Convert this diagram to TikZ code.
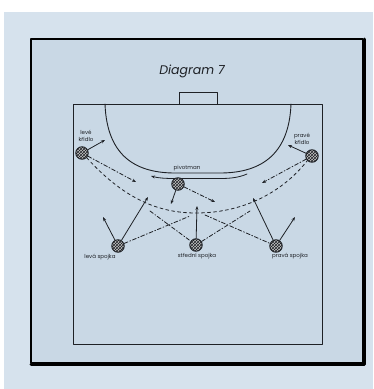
\documentclass[tikz,border=0pt]{standalone}
\usepackage{fontspec}
\setmainfont{Poppins}
\usetikzlibrary{patterns,arrows.meta}
\definecolor{paper}{RGB}{214,226,237}
\definecolor{board}{RGB}{201,216,229}
\definecolor{ink}{RGB}{30,33,38}
\tikzset{
  player/.style={circle, draw=ink, line width=0.9pt, minimum size=12.5pt, inner sep=0pt,
    preaction={fill=gray!45}, pattern=crosshatch, pattern color=ink},
  lbl/.style={text=ink, inner sep=0pt, align=center, font=\fontsize{5.5}{6.5}\selectfont},
  run/.style={->, ink, line width=0.8pt},
  pass/.style={->, ink, line width=0.8pt, dash pattern=on 4pt off 2pt on 1pt off 2pt},
  cross/.style={ink, line width=0.8pt, dash pattern=on 4pt off 2pt on 1pt off 2pt},
  line/.style={ink, line width=0.9pt}
}
\begin{document}
\begin{tikzpicture}[x=1pt, y=-1pt, line join=round, line cap=round, >={Stealth[length=4pt,width=3pt]}]
	\useasboundingbox (0,0) rectangle (373,389);
	\fill[white] (0,0) rectangle (373,389);
	\fill[paper] (4,12) rectangle (373,389);
	\fill[board] (31,39) rectangle (363,363);
	% frame
	\draw[line width=2pt] (31,39) rectangle (363,363);
	\draw[line width=3pt] (364,39) -- (364,364.5) -- (31,364.5);
	\node[text=ink, font=\itshape\fontsize{12.5}{12.5}\selectfont] (title) at (192,71) {Diagram 7};
	% court, goal and goal area
	\draw[line] (73,104) rectangle (322,344);
	\draw[line] (179,104) |- (217,92) -- (217,104);
	\draw[line] (105,104) .. controls (107,158) and (138,173) .. (175,173) -- (220,173)
		.. controls (257,173) and (289,158) .. (291,104);
	\draw[run] (247,174) .. controls (238,178) and (228,178.5) .. (220,178.5) -- (175,178.5)
		.. controls (165,178.5) and (158,178) .. (151,176);
	% players
	\foreach \n/\x/\y in {lw/82/153, rw/312/156, pv/178/184, lb/118/246, cb/196/245, rb/276/246}{
		\node[player] (\n) at (\x,\y) {};
	}
	\node[lbl] (lw-l) at (86,136) {levé\\křídlo};
	\node[lbl] (rw-l) at (302,139) {pravé\\křídlo};
	\node[lbl] (pv-l) at (187,168) {pivotman};
	\node[lbl] (lb-l) at (100,257) {levá spojka};
	\node[lbl] (cb-l) at (197,256) {střední spojka};
	\node[lbl] (rb-l) at (290,256) {pravá spojka};
	% end points of runs and passes
	\path (105,140) coordinate (lw-r)
		(288,145) coordinate (rw-r)
		(136,182) coordinate (lw-p)
		(262,183) coordinate (rw-p)
		(171,204) coordinate (pv-r)
		(215,202) coordinate (pv-p)
		(103,217) coordinate (lb-r1)
		(148,197) coordinate (lb-r2)
		(197,206) coordinate (cb-r)
		(253,198) coordinate (rb-r1)
		(295,217) coordinate (rb-r2)
		(190,216) coordinate (lb-x)
		(150,211) coordinate (cb-x1)
		(250,211) coordinate (cb-x2)
		(205,215) coordinate (rb-x);
	% runs
	\foreach \a/\b in {lw/lw-r, rw/rw-r, pv/pv-r, lb/lb-r1, lb/lb-r2, cb/cb-r, rb/rb-r1, rb/rb-r2}{
		\draw[run] (\a) -- (\b);
	}
	% passes
	\foreach \a/\b in {lw/lw-p, rw/rw-p, pv/pv-p}{
		\draw[pass] (\a) -- (\b);
	}
	\draw[cross] (lb) -- (lb-x) (cb-x1) -- (cb) (cb) -- (cb-x2) (rb-x) -- (rb);
	\draw[ink, line width=0.8pt, dashed] (lw.south east) .. controls (125,200) and (160,213) .. (196,213)
		.. controls (240,213) and (280,195) .. (rw.south west);
\end{tikzpicture}
\end{document}
